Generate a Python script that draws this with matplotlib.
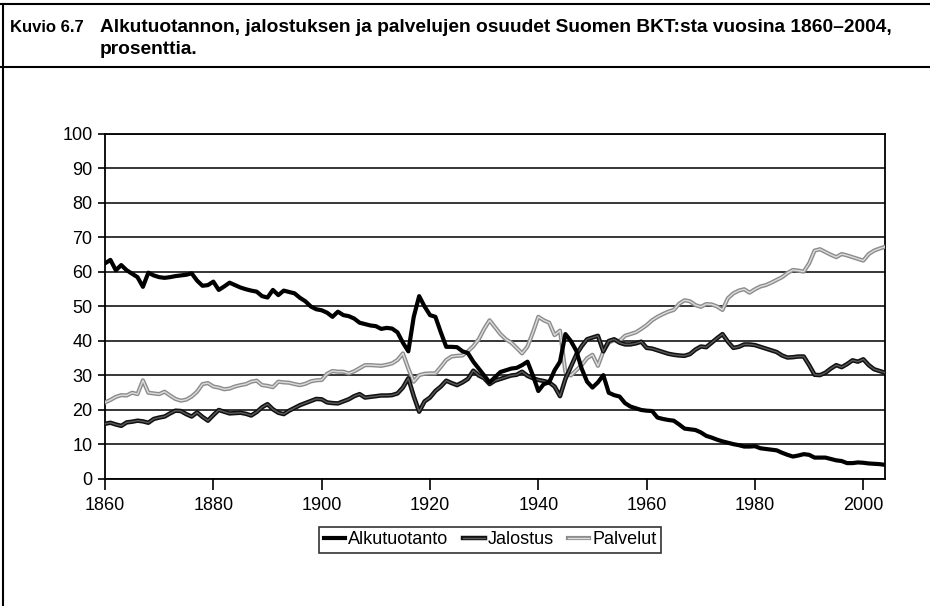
import matplotlib
matplotlib.use("Agg")
import matplotlib.pyplot as plt
import matplotlib.patheffects as pe
from matplotlib.lines import Line2D

plt.rcParams['font.family'] = ['Liberation Sans', 'DejaVu Sans']

# Data: shares of GDP (%), yearly 1860-2004
vuodet = list(range(1860, 2005))

alkutuotanto = [
    62.5, 63.5, 60.5, 62.0, 60.5, 59.5, 58.5, 55.7, 59.8, 59.0,
    58.5, 58.3, 58.5, 58.8, 59.0, 59.2, 59.6, 57.5, 56.0, 56.2,
    57.2, 54.8, 55.8, 56.9, 56.2, 55.5, 55.0, 54.6, 54.3, 53.0,
    52.6, 54.8, 53.3, 54.6, 54.2, 53.8, 52.5, 51.5, 50.0, 49.2,
    48.9, 48.2, 47.0, 48.5, 47.5, 47.2, 46.5, 45.3, 44.9, 44.5,
    44.3, 43.5, 43.8, 43.6, 42.5, 39.5, 37.0, 47.0, 53.0, 50.0,
    47.5, 47.0, 42.5, 38.3, 38.3, 38.2, 37.0, 36.5, 34.0, 32.0,
    30.0, 28.0, 29.5, 31.0, 31.5, 32.0, 32.2, 33.0, 34.0, 30.0,
    25.5, 27.5, 28.0, 31.5, 34.0, 42.0, 40.0, 37.2, 32.0, 28.2,
    26.5, 28.0, 30.1, 25.0, 24.3, 23.9, 22.0, 21.0, 20.5, 20.0,
    19.8, 19.7, 17.8, 17.4, 17.1, 16.9, 15.8, 14.6, 14.4, 14.2,
    13.5, 12.5, 12.0, 11.4, 10.9, 10.5, 10.1, 9.8, 9.4, 9.4,
    9.5, 8.9, 8.7, 8.5, 8.3, 7.6, 7.0, 6.5, 6.8, 7.2,
    7.0, 6.2, 6.2, 6.2, 5.8, 5.4, 5.2, 4.6, 4.6, 4.8,
    4.7, 4.5, 4.4, 4.3, 4.1,
]

jalostus = [
    16.0, 16.3, 15.8, 15.4, 16.4, 16.6, 16.9, 16.7, 16.3, 17.4,
    17.8, 18.1, 19.0, 19.8, 19.7, 18.8, 18.1, 19.3, 18.0, 16.9,
    18.5, 20.0, 19.5, 19.0, 19.1, 19.2, 18.9, 18.4, 19.4, 20.8,
    21.7, 20.2, 19.2, 18.8, 19.8, 20.6, 21.4, 22.0, 22.6, 23.2,
    23.1, 22.2, 22.0, 21.9, 22.5, 23.1, 24.0, 24.6, 23.6, 23.8,
    24.0, 24.2, 24.2, 24.3, 24.8, 26.5, 29.2, 24.0, 19.5, 22.5,
    23.6, 25.5, 26.8, 28.5, 27.8, 27.2, 28.0, 29.0, 31.4, 30.0,
    29.2, 27.5, 28.5, 29.0, 29.5, 30.0, 30.2, 31.1, 29.9, 29.2,
    28.7, 28.4, 28.0, 26.8, 24.0, 29.0, 32.5, 36.0, 38.5, 40.5,
    41.0, 41.5, 37.0, 40.0, 40.5, 39.5, 39.0, 39.0, 39.3, 39.8,
    38.0, 37.8, 37.3, 36.8, 36.3, 36.0, 35.8, 35.7, 36.2, 37.5,
    38.4, 38.2, 39.5, 40.8, 42.0, 39.8, 38.0, 38.3, 39.0, 39.0,
    38.8, 38.3, 37.8, 37.3, 36.8, 35.8, 35.2, 35.3, 35.5, 35.5,
    33.0, 30.2, 30.1, 30.8, 32.0, 33.0, 32.4, 33.3, 34.4, 34.0,
    34.7, 33.0, 31.8, 31.3, 30.8,
]

palvelut = [
    22.2, 22.9, 23.8, 24.3, 24.2, 25.0, 24.6, 28.6, 25.0, 24.8,
    24.6, 25.3, 24.2, 23.2, 22.7, 23.0, 23.9, 25.3, 27.5, 27.8,
    26.8, 26.5, 26.0, 26.2, 26.8, 27.2, 27.5, 28.2, 28.5, 27.2,
    27.0, 26.6, 28.2, 28.0, 27.9, 27.5, 27.2, 27.6, 28.3, 28.6,
    28.7, 30.5, 31.3, 31.1, 31.1, 30.6, 31.2, 32.1, 33.0, 33.0,
    32.9, 32.8, 33.1, 33.5, 34.5, 36.4, 32.0, 28.2, 30.1, 30.5,
    30.6, 30.6, 32.5, 34.5, 35.5, 35.7, 35.8, 37.0, 38.5, 40.5,
    43.5, 46.0, 44.0, 42.0, 40.5, 39.5, 38.0, 36.4, 38.4, 42.5,
    47.0, 46.0, 45.3, 41.7, 43.0, 31.0, 30.0, 31.5, 33.0, 35.0,
    36.0, 32.8, 37.0, 39.5, 40.3, 40.0, 41.5, 42.0, 42.5, 43.5,
    44.6, 46.0, 47.0, 47.8, 48.5, 49.0, 50.8, 51.8, 51.5, 50.4,
    49.9, 50.7, 50.6, 50.0, 49.0, 52.4, 53.8, 54.6, 55.0, 54.0,
    55.0, 55.8, 56.2, 56.9, 57.7, 58.5, 59.7, 60.6, 60.4, 60.1,
    62.5, 66.2, 66.6, 65.8, 65.0, 64.3, 65.2, 64.8, 64.3, 63.8,
    63.3, 65.2, 66.2, 66.8, 67.3,
]

fig = plt.figure(figsize=(9.3, 6.06), dpi=100)
ax = fig.add_axes([0.1129, 0.2096, 0.8387, 0.5693])

# Palvelut: light grey hatched look
ax.plot(vuodet, palvelut, color='#dcdcdc', lw=1.0, zorder=3,
        path_effects=[pe.Stroke(linewidth=3.0, foreground='#8c8c8c'), pe.Normal()])
# Jalostus: dark line with grey core
ax.plot(vuodet, jalostus, color='#5a5a5a', lw=1.0, zorder=4,
        path_effects=[pe.Stroke(linewidth=3.2, foreground='#111111'), pe.Normal()])
# Alkutuotanto: thick black
ax.plot(vuodet, alkutuotanto, color='black', lw=3.0, zorder=5)

ax.set_xlim(1860, 2004)
ax.set_ylim(0, 100)
ax.set_xticks(range(1860, 2001, 20))
ax.set_yticks(range(0, 101, 10))
ax.yaxis.grid(True, color='black', lw=1.1)
ax.set_axisbelow(True)
for s in ax.spines.values():
    s.set_color('black')
    s.set_linewidth(1.3)
ax.tick_params(axis='x', direction='out', length=8, width=1.2, labelsize=13, pad=5)
ax.tick_params(axis='y', direction='out', length=5, width=1.2, labelsize=13, pad=4)

# legend
handles = [
    Line2D([], [], color='black', lw=3.0),
    Line2D([], [], color='#5a5a5a', lw=1.0,
           path_effects=[pe.Stroke(linewidth=3.2, foreground='#111111'), pe.Normal()]),
    Line2D([], [], color='#dcdcdc', lw=1.0,
           path_effects=[pe.Stroke(linewidth=3.0, foreground='#8c8c8c'), pe.Normal()]),
]
leg = fig.legend(handles, ['Alkutuotanto', 'Jalostus', 'Palvelut'],
                 loc='center', bbox_to_anchor=(0.527, 0.109), ncol=3,
                 frameon=True, fancybox=False, fontsize=13,
                 handlelength=1.2, handletextpad=0.15, columnspacing=0.8,
                 borderpad=0.25, borderaxespad=0)
leg.get_frame().set_edgecolor('black')
leg.get_frame().set_linewidth(1.2)

# header box
fig.add_artist(Line2D([0, 1], [0.993, 0.993], color='black', lw=1.5, transform=fig.transFigure))
fig.add_artist(Line2D([0, 1], [0.889, 0.889], color='black', lw=1.5, transform=fig.transFigure))
fig.add_artist(Line2D([0.003, 0.003], [0, 0.993], color='black', lw=1.5, transform=fig.transFigure))
fig.text(0.011, 0.955, 'Kuvio 6.7', fontsize=12, fontweight='bold', va='center')
fig.text(0.107, 0.955, 'Alkutuotannon, jalostuksen ja palvelujen osuudet Suomen BKT:sta vuosina 1860–2004,',
         fontsize=13.8, fontweight='bold', va='center')
fig.text(0.107, 0.918, 'prosenttia.', fontsize=13.8, fontweight='bold', va='center')

fig.savefig('out.png', dpi=100)
